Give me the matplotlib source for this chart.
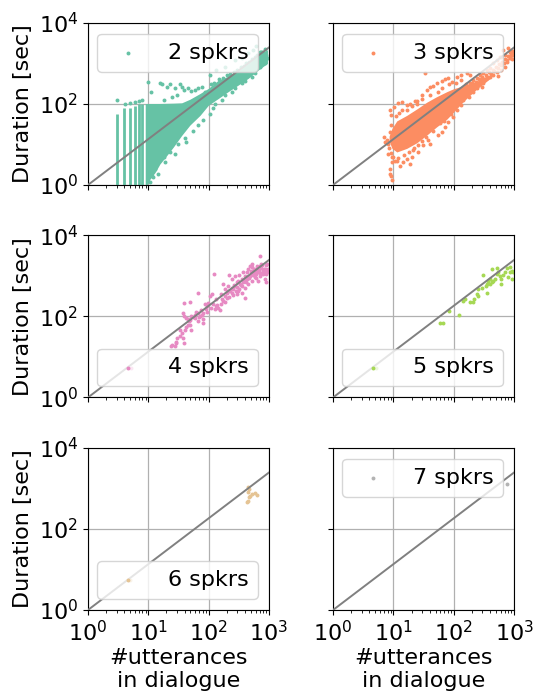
import matplotlib
matplotlib.use('Agg')
import matplotlib.pyplot as plt
import numpy as np

labels = ['2 spkrs', '3 spkrs', '4 spkrs', '5 spkrs', '6 spkrs', '7 spkrs']
colors = ['#66c2a5', '#fc8d62', '#e78ac3', '#a6d854', '#e5c494', '#b3b3b3']
legend_locs = ['upper right', 'upper right', 'lower right', 'lower right', 'lower right', 'upper right']

# reference line: duration = fit_a * n_utt ** fit_b
fit_a = 1.0
fit_b = 1.13

# 2 speakers: vertical streaks at small utterance counts, dense core, scattered edge points
streak2_x = [3, 4, 5, 6, 7, 8]
streak2_top = [57, 81, 77, 87, 98, 102]
streak2_bottom = [0.5, 0.5, 0.5, 0.5, 0.5, 0.5]
core2_x = [8.9, 10.7, 13.0, 15.6, 20.2, 26.0, 35.8, 49, 72, 98.7, 145, 211, 309, 453, 662, 945]
core2_lo = [0.8, 1.4, 2.05, 3.3, 5.3, 8.6, 16.7, 30, 52, 92, 136, 200, 290, 425, 680, 1000]
core2_hi = [102, 102, 102, 102, 103, 104, 106, 130, 180, 240, 385, 480, 650, 1000, 1700, 2150]
utt2 = [3.0, 4.1, 5.0, 6.1, 6.9, 8.0, 9.8, 11.1, 15.6, 17.2, 20.2, 23, 28, 33.5, 35.8, 39.5,
        46, 52, 59, 67.5, 77, 87, 18, 24.5, 29.5, 11.4, 12.2, 13, 17.9, 19, 23, 27.8, 31.5,
        40.6, 43, 56, 67.5, 82, 105, 119, 127, 164, 186, 240, 272, 351, 399, 514, 583, 705,
        853, 970, 662, 752, 910, 105, 134, 186, 272, 351, 453, 548, 620, 14.5, 10.5,
        110, 125, 150, 175, 200, 230, 260, 300, 340, 380, 420, 470, 520, 580, 640, 700, 780, 860]
dur2 = [125, 102, 106, 110, 115, 123, 345, 200, 335, 310, 265, 303, 250, 310, 265, 218,
        240, 210, 218, 240, 265, 199, 123, 150, 164, 1.7, 1.55, 2.5, 4.85, 3.6, 6.5, 5.9, 10.4,
        14, 11.4, 22, 30, 39, 57, 77, 98, 123, 164, 199, 240, 318, 370, 465, 565, 826,
        1000, 1330, 1330, 1950, 1610, 514, 680, 826, 1210, 1330, 1770, 2150, 2600, 1.9, 1.2,
        300, 330, 420, 430, 520, 560, 600, 700, 800, 850, 1000, 1100, 1250, 1450, 1600, 1900, 1850, 2300]

# 3 speakers
core3_x = [8.5, 9.5, 11.4, 16.7, 24.5, 35.8, 52, 77, 99, 145, 240, 400]
core3_lo = [12, 8, 6.5, 8, 11, 17, 27, 42, 62, 115, 230, 420]
core3_hi = [16, 25, 38, 52, 75, 110, 150, 200, 235, 280, 360, 520]
utt3 = [6.9, 7.3, 7.8, 8.3, 8.9, 8.9, 9.4, 8.9, 9.2, 10.1, 12, 14, 16.7, 19, 22.7, 24.5,
        29.5, 35.8, 40.6, 46, 52, 63, 72, 82, 93, 112, 134, 164, 186, 33.5, 11.4, 13, 14.7,
        16.7, 20, 21.5, 19, 26, 31.5, 38, 40.6, 56, 63, 72, 82, 99, 112, 134, 145, 176, 211,
        240, 290, 309, 351, 399, 453, 514, 548, 620, 705, 752, 853, 910, 970, 853, 800, 662,
        583, 514, 453, 399, 351, 309, 272, 240, 211, 186, 164, 145, 127, 9.0, 9.6,
        160, 170, 180, 200, 220, 230, 250, 260, 280, 300, 320, 340, 360, 380, 420, 440, 470,
        500, 540, 560, 600, 640, 680, 720, 760, 800, 850, 900, 950, 980, 620, 700, 860, 940,
        8.0, 8.5, 8.7, 9.0, 9.2, 9.6, 10.5, 11, 12.5, 14, 10, 12, 15, 18, 22, 26, 30, 35, 45,
        60, 70, 90, 17, 20, 25, 30, 40, 55, 65, 85, 110, 130]
dur3 = [15, 11.5, 13, 5.9, 1.9, 2.5, 3.6, 70, 52, 84, 106, 110, 92, 98, 118, 120,
        164, 218, 265, 275, 318, 370, 405, 425, 350, 465, 514, 565, 520, 565, 4, 3, 3.6,
        4.4, 4.85, 7.2, 3.3, 6.6, 9.4, 12.6, 10.4, 16.7, 20, 27, 35, 48, 70, 92, 123, 150, 199,
        240, 265, 318, 425, 450, 514, 621, 500, 685, 826, 1100, 1330, 1610, 1770, 1950, 2350, 2150,
        1460, 1210, 1000, 752, 685, 565, 514, 425, 386, 318, 265, 218, 199, 1.7, 1.3,
        300, 220, 260, 330, 280, 350, 300, 420, 380, 450, 400, 520, 470, 600, 560, 700, 640,
        800, 760, 950, 900, 1100, 1000, 1300, 1200, 1500, 1400, 1700, 1600, 2000, 1400, 1600, 2000, 1300,
        10, 8, 20, 30, 6, 4.8, 3.8, 50, 60, 70, 5, 4.5, 5.5, 6.5, 8, 9.5, 12, 15, 22,
        33, 38, 55, 72, 90, 100, 130, 170, 200, 250, 300, 320, 380]

# 4 speakers
utt4 = [5.1, 23.8, 24.9, 28.5, 30, 33.5, 35.8, 38, 29, 27.8, 39, 40.6, 52, 49, 37, 39, 43, 46,
        52, 59, 67.5, 72, 77, 82, 67.5, 82, 39, 49, 66, 87, 93, 99, 105, 112, 108, 119, 131,
        145, 154, 134, 121, 158, 164, 186, 198, 186, 176, 211, 211, 216, 240, 240, 255, 272,
        290, 290, 309, 309, 330, 351, 351, 373, 399, 399, 399, 425, 425, 453, 453, 483, 483,
        514, 514, 514, 548, 548, 583, 583, 620, 620, 662, 662, 705, 705, 720, 752, 800, 800,
        853, 853, 910, 910, 945, 240, 272, 318, 373,
        130, 140, 160, 170, 190, 200, 220, 230, 250, 260, 280, 300, 320, 340, 360, 380, 410,
        430, 460, 500, 530, 560, 600, 640, 680, 740, 780, 820, 880, 930, 960, 600, 700, 800,
        900, 50, 55, 60, 62, 70, 75, 80, 90, 95, 45, 48, 34, 42]
dur4 = [5.3, 18.4, 19.8, 24, 29, 32.5, 39, 30, 22, 18.4, 22, 47, 47, 62, 123, 101, 91, 84,
        101, 110, 123, 101, 110, 84, 77, 70, 218, 232, 370, 199, 181, 218, 318, 351, 164, 199, 181,
        164, 143, 273, 1100, 351, 265, 318, 290, 465, 621, 425, 565, 1050, 514, 386, 465, 565,
        351, 685, 752, 425, 621, 826, 386, 685, 1000, 514, 290, 1210, 826, 1460, 621, 1770, 1000,
        1610, 752, 1950, 1330, 1040, 1100, 910, 1460, 860, 1210, 752, 1770, 1000, 3000, 1950, 1330, 1100,
        1460, 826, 1100, 685, 1250, 826, 1000, 1040, 1250,
        150, 190, 200, 240, 230, 380, 300, 420, 330, 600, 420, 520, 480, 600, 560, 800, 700,
        950, 900, 1300, 1200, 1500, 1300, 1700, 1400, 1600, 1900, 1500, 1800, 2000, 1500, 1100, 1150, 1250,
        1300, 80, 95, 90, 130, 95, 140, 120, 150, 130, 60, 75, 45, 55]

# 5 speakers
utt5 = [5.1, 59.4, 67.5, 84, 122, 140, 154, 186, 206, 216, 240, 255, 255, 309, 300, 343, 351,
        373, 399, 425, 425, 453, 483, 514, 530, 548, 583, 600, 620, 662, 705, 752, 800, 853,
        853, 910, 910, 945, 399, 351]
dur5 = [5.3, 70, 70, 136, 108, 240, 265, 226, 232, 275, 365, 465, 318, 1040, 514, 565, 386,
        752, 621, 685, 1460, 752, 826, 1100, 1520, 1250, 1000, 621, 826, 1040, 1250, 1520, 910, 1250,
        1660, 1330, 826, 1210, 826, 621]

# 6 speakers
utt6 = [5.0, 449, 449, 434, 449, 490, 524, 578, 630, 464, 475]
dur6 = [5.6, 1090, 790, 450, 494, 643, 719, 776, 680, 955, 596]

# 7 speakers
utt7 = [766]
dur7 = [1313]

utts = [utt2, utt3, utt4, utt5, utt6, utt7]
durs = [dur2, dur3, dur4, dur5, dur6, dur7]

plt.rcParams['font.size'] = 16

fig, axes = plt.subplots(3, 2, figsize=(5.33, 6.91), dpi=100, sharex=True, sharey=True)
fig.subplots_adjust(left=0.165, right=0.9644, bottom=0.1172, top=0.9671, wspace=0.354, hspace=0.31)

line_x = np.array([1, 1000])
for i, ax in enumerate(axes.flat):
    c = colors[i]
    if i == 0:
        ax.vlines(streak2_x, streak2_bottom, streak2_top, colors=c, lw=2.0, zorder=2)
        ax.fill_between(core2_x, core2_lo, core2_hi, color=c, lw=0, zorder=2)
    if i == 1:
        ax.fill_between(core3_x, core3_lo, core3_hi, color=c, lw=0, zorder=2)
    ax.scatter(utts[i], durs[i], s=8, color=c, linewidths=0, label=labels[i], zorder=2)
    ax.plot(line_x, fit_a * line_x ** fit_b, color='gray', lw=1.4, zorder=3)
    ax.set_xscale('log')
    ax.set_yscale('log')
    ax.set_xlim(1, 1e3)
    ax.set_ylim(1, 1e4)
    ax.grid(True, which='major', color='#b0b0b0', lw=0.9)
    ax.set_axisbelow(True)
    ax.legend(loc=legend_locs[i], fontsize=16)
    if i % 2 == 0:
        ax.set_ylabel('Duration [sec]')
    if i >= 4:
        ax.set_xlabel('#utterances\nin dialogue', labelpad=2)

fig.savefig('out.png', dpi=100)
